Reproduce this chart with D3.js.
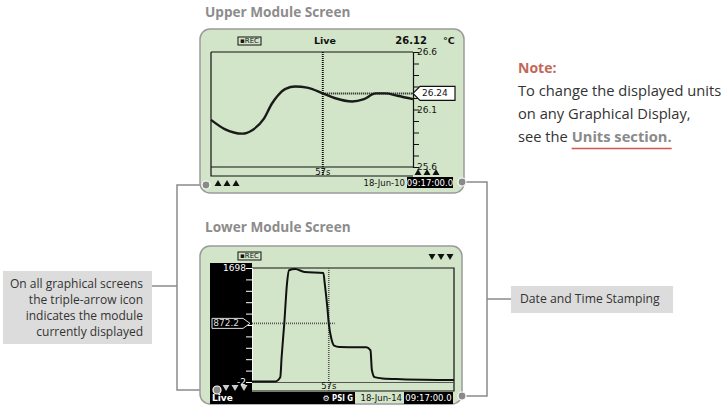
<!DOCTYPE html>
<html>
<head>
<meta charset="utf-8">
<script src="https://cdn.jsdelivr.net/npm/d3@7"></script>
<style>
  body { margin: 0; background: #fff; }
  svg { display: block; }
  .lcd { font-family: "DejaVu Sans", sans-serif; }
  .doc { font-family: "Open Sans", sans-serif; }
</style>
</head>
<body>
<script>
// ---- data -------------------------------------------------------------
// upper module: temperature trace (seconds, deg C)
var upperTime = [0, 7, 16, 21, 27, 31, 34, 38, 43, 49, 57, 63, 72, 78, 84,
    89, 95, 103];
var upperTemp = [26.01, 25.93, 25.89, 25.92, 26.02, 26.15, 26.22, 26.28,
    26.30, 26.29, 26.24, 26.20, 26.17, 26.19, 26.24, 26.24, 26.22, 26.19];
var upperTicks = [25.6, 25.7, 25.8, 25.9, 26.0, 26.1, 26.2, 26.3, 26.4,
    26.5, 26.6];
var upperLabels = [25.6, 26.1, 26.6];

// lower module: pressure trace (seconds, PSI G)
var lowerTime = [0, 17, 21, 22, 24, 26, 27.5, 32, 39, 53, 54, 56, 57, 59,
    61, 65, 85, 88, 89, 91, 97, 111, 150];
var lowerPsi = [5, 5, 70, 370, 880, 1470, 1665, 1683, 1640, 1625, 1470,
    1100, 872, 640, 540, 520, 515, 470, 180, 70, 50, 40, 28];
var lowerTicks = [-2, 168, 338, 508, 678, 848, 1018, 1188, 1358, 1528, 1698];
var lowerLabels = [-2, 1698];

var cursorTime = 57;
var upperCursorValue = 26.24;
var lowerCursorValue = 872.2;

var noteLines = ["To change the displayed units", "on any Graphical Display,"];
var calloutLines = ["On all graphical screens", "the triple-arrow icon",
    "indicates the module", "currently displayed"];

// ---- page ---------------------------------------------------------------
var W = 725, H = 406;
var lcdFill = "#d3e5c8", frame = "#9a9a9a", ink = "#111";

var svg = d3.select("body").append("svg")
    .attr("width", W)
    .attr("height", H);

function screenBox(x, y, w, h) {
    svg.append("rect")
        .attr("x", x).attr("y", y)
        .attr("width", w).attr("height", h)
        .attr("rx", 10).attr("ry", 10)
        .attr("fill", lcdFill)
        .attr("stroke", frame)
        .attr("stroke-width", 1.5);
}

function lcdText(g, x, y, txt, opts) {
    opts = opts || {};
    var t = g.append("text")
        .attr("class", "lcd")
        .attr("x", x).attr("y", y)
        .attr("dominant-baseline", "middle")
        .attr("text-anchor", opts.anchor || "start")
        .attr("font-size", opts.size || 9)
        .attr("font-weight", opts.bold ? "bold" : "normal")
        .attr("fill", opts.fill || ink)
        .text(txt);
    if (opts.len) {
        t.attr("textLength", opts.len)
            .attr("lengthAdjust", "spacingAndGlyphs");
    }
    return t;
}

function recIcon(g, x, y) {
    g.append("rect").attr("x", x).attr("y", y).attr("width", 23)
        .attr("height", 8).attr("fill", "none")
        .attr("stroke", ink).attr("stroke-width", 1);
    lcdText(g, x + 11.5, y + 4.3, "\u25aaREC", {anchor: "middle", size: 7});
}

function arrows(g, x, y, up, fill) {
    for (var i = 0; i < 3; i++) {
        var cx = x + i * 9;
        var pts = up
            ? [[cx - 3.5, y + 3], [cx + 3.5, y + 3], [cx, y - 3]]
            : [[cx - 3.5, y - 3], [cx + 3.5, y - 3], [cx, y + 3]];
        g.append("polygon").attr("points", pts.join(" "))
            .attr("fill", fill || ink);
    }
}

function docText(x, y, txt, opts) {
    opts = opts || {};
    return svg.append("text")
        .attr("class", "doc")
        .attr("x", x).attr("y", y)
        .attr("dominant-baseline", "middle")
        .attr("text-anchor", opts.anchor || "start")
        .attr("font-size", opts.size || 14)
        .attr("font-weight", opts.bold ? "bold" : "normal")
        .attr("fill", opts.fill || "#333")
        .text(txt);
}

// ---- titles ---------------------------------------------------------------
docText(205, 13, "Upper Module Screen", {size: 13.6, bold: true, fill: "#8c8c8c"});
docText(205, 228, "Lower Module Screen", {size: 13.6, bold: true, fill: "#8c8c8c"});

// ---- connectors (drawn under the screens) ------------------------------
var connector = svg.append("g")
    .attr("fill", "none")
    .attr("stroke", "#8a8a8a")
    .attr("stroke-width", 1.5);
connector.append("path").attr("d", "M152,286H177M206,185H177V390H217");
connector.append("path").attr("d", "M462,182H487V396H462M487,299H511");

// ---- upper screen -------------------------------------------------------
screenBox(200, 29, 264, 164);
var up = svg.append("g");

var ux = d3.scaleLinear().domain([0, 103]).range([211, 413]);
var uy = d3.scaleLinear().domain([25.6, 26.6]).range([167, 52]);

recIcon(up, 238, 37);
lcdText(up, 325, 41, "Live", {anchor: "middle", size: 9.5, bold: true});
lcdText(up, 427, 41, "26.12", {anchor: "end", size: 10, bold: true});
lcdText(up, 443, 41, "\u00b0C", {size: 9.5, bold: true});

// frame
up.append("path")
    .attr("d", "M211,52H413M211,52V176H413M211,167H413")
    .attr("fill", "none").attr("stroke", ink).attr("stroke-width", 1.2);

var uAxis = d3.axisRight(uy)
    .tickValues(upperTicks)
    .tickSize(6)
    .tickFormat(function(d) {
        return upperLabels.some(function(v) {
            return Math.abs(v - d) < 1e-6;
        }) ? d3.format(".1f")(d) : "";
    });
var uAxisG = up.append("g")
    .attr("transform", "translate(413,0)")
    .call(uAxis);
uAxisG.select(".domain").attr("stroke", ink).attr("stroke-width", 1.2);
uAxisG.selectAll(".tick line").attr("stroke", ink);
uAxisG.selectAll(".tick text")
    .attr("x", 4).attr("dy", "0.32em")
    .attr("font-size", 9).attr("fill", ink)
    .attr("font-family", "DejaVu Sans, sans-serif");

// cursor
var ucx = ux(cursorTime), ucy = uy(upperCursorValue);
up.append("line")
    .attr("x1", ucx).attr("x2", ucx).attr("y1", 52).attr("y2", 176)
    .attr("stroke", ink).attr("stroke-width", 2)
    .attr("stroke-dasharray", "1,1");
up.append("line")
    .attr("x1", ucx).attr("x2", 413).attr("y1", ucy).attr("y2", ucy)
    .attr("stroke", ink).attr("stroke-width", 2)
    .attr("stroke-dasharray", "1,1");

// trace
var uLine = d3.line()
    .x(function(d, i) { return ux(upperTime[i]); })
    .y(function(d) { return uy(d); })
    .curve(d3.curveMonotoneX);
up.append("path")
    .datum(upperTemp)
    .attr("d", uLine)
    .attr("fill", "none")
    .attr("stroke", "#1a1a1a")
    .attr("stroke-width", 2.4);

// value flag
up.append("path")
    .attr("d", "M413," + ucy + "l7,-7h35v14h-35z")
    .attr("fill", "#fff").attr("stroke", ink).attr("stroke-width", 1.2);
lcdText(up, 422, ucy + 0.5, d3.format(".2f")(upperCursorValue), {size: 9});

lcdText(up, ucx, 172, cursorTime + "s", {anchor: "middle", size: 8.5});
arrows(up, 418, 172, true);
arrows(up, 218, 183, true);
lcdText(up, 405, 183, "18-Jun-10", {anchor: "end", size: 8.5});
up.append("rect").attr("x", 407).attr("y", 177)
    .attr("width", 46).attr("height", 11).attr("fill", "#000");
lcdText(up, 430, 183, "09:17:00.0", {anchor: "middle", size: 8.5, fill: "#fff"});

// ---- lower screen -------------------------------------------------------
screenBox(200, 246, 262, 158);
var lo = svg.append("g");

var lx = d3.scaleLinear().domain([0, 150]).range([252, 454]);
var ly = d3.scaleLinear().domain([-2, 1698]).range([382, 268]);

recIcon(lo, 238, 252);
arrows(lo, 432, 257, false);

// black side panel and status bar
lo.append("rect").attr("x", 210).attr("y", 263)
    .attr("width", 42).attr("height", 141).attr("fill", "#000");
lo.append("rect").attr("x", 210).attr("y", 392)
    .attr("width", 145).attr("height", 12).attr("fill", "#000");

lo.append("path")
    .attr("d", "M252,268H454V391H252")
    .attr("fill", "none").attr("stroke", ink).attr("stroke-width", 1.2);

var lAxis = d3.axisLeft(ly)
    .tickValues(lowerTicks)
    .tickSize(6)
    .tickFormat(function(d) {
        return lowerLabels.indexOf(d) >= 0 ? d : "";
    });
var lAxisG = lo.append("g")
    .attr("transform", "translate(252,0)")
    .call(lAxis);
lAxisG.select(".domain").attr("stroke", "#fff").attr("stroke-width", 1);
lAxisG.selectAll(".tick line").attr("stroke", "#fff");
lAxisG.selectAll(".tick text")
    .attr("x", -6).attr("dy", "0.32em")
    .attr("font-size", 9).attr("fill", "#fff")
    .attr("font-family", "DejaVu Sans, sans-serif");

// baseline
lo.append("line")
    .attr("x1", 252).attr("x2", 454).attr("y1", 382.5).attr("y2", 382.5)
    .attr("stroke", "#555").attr("stroke-width", 1);

// cursor
var lcx = lx(cursorTime), lcy = ly(lowerCursorValue);
lo.append("line")
    .attr("x1", lcx).attr("x2", lcx).attr("y1", 268).attr("y2", 391)
    .attr("stroke", "#555").attr("stroke-width", 1.6)
    .attr("stroke-dasharray", "1,1");
lo.append("line")
    .attr("x1", 252).attr("x2", lcx + 6).attr("y1", lcy).attr("y2", lcy)
    .attr("stroke", "#555").attr("stroke-width", 1.6)
    .attr("stroke-dasharray", "1,1");

// trace
var lLine = d3.line()
    .x(function(d, i) { return lx(lowerTime[i]); })
    .y(function(d) { return ly(d); })
    .curve(d3.curveMonotoneX);
lo.append("path")
    .datum(lowerPsi)
    .attr("d", lLine)
    .attr("fill", "none")
    .attr("stroke", "#111")
    .attr("stroke-width", 2);

// value flag
lo.append("path")
    .attr("d", "M212," + (lcy - 5) + "h31l7,5l-7,5h-31z")
    .attr("fill", "#000").attr("stroke", "#ddd").attr("stroke-width", 1);
lcdText(lo, 239, lcy + 0.5, d3.format(".1f")(lowerCursorValue),
    {anchor: "end", size: 9, fill: "#ddd"});

lcdText(lo, lcx, 386.5, cursorTime + "s", {anchor: "middle", size: 8.5});
arrows(lo, 226, 388, false, "#ccc");
lcdText(lo, 212, 398.5, "Live", {size: 9, bold: true, fill: "#fff"});
lcdText(lo, 326, 398.5, "\u2699", {anchor: "middle", size: 8, fill: "#fff"});
lcdText(lo, 332, 398.5, "PSI G", {size: 8.5, bold: true, fill: "#fff", len: 21});
lcdText(lo, 402, 398.5, "18-Jun-14", {anchor: "end", size: 8.5});
lo.append("rect").attr("x", 404).attr("y", 392)
    .attr("width", 49).attr("height", 12).attr("fill", "#000");
lcdText(lo, 428.5, 398.5, "09:17:00.0", {anchor: "middle", size: 8.5, fill: "#fff"});

// ---- connector dots ----------------------------------------------------
[[206, 185], [217, 390], [462, 182], [462, 396]].forEach(function(p) {
    svg.append("circle")
        .attr("cx", p[0]).attr("cy", p[1]).attr("r", 4)
        .attr("fill", "#8a8a8a")
        .attr("stroke", "#fff").attr("stroke-width", 1.2);
});

// ---- callouts ----------------------------------------------------------
svg.append("rect").attr("x", 3).attr("y", 271)
    .attr("width", 149).attr("height", 73).attr("fill", "#dcdcdc");
calloutLines.forEach(function(t, i) {
    docText(143, 285 + i * 16, t, {anchor: "end", size: 12});
});

svg.append("rect").attr("x", 511).attr("y", 286)
    .attr("width", 162).attr("height", 27).attr("fill", "#dcdcdc");
docText(520, 299.5, "Date and Time Stamping", {size: 12.2});

docText(518, 69, "Note:", {size: 14, bold: true, fill: "#c2675a"});
noteLines.forEach(function(t, i) {
    docText(518, 92 + i * 23, t, {size: 14.7});
});
var seeTxt = docText(518, 138, "", {size: 14.7});
seeTxt.append("tspan").text("see the\u00a0");
var unitsSpan = seeTxt.append("tspan")
    .attr("font-weight", "bold").attr("fill", "#8a8a8a")
    .text("Units section.");
var unitsBox = unitsSpan.node().getBBox();
svg.append("line")
    .attr("x1", unitsBox.x).attr("x2", unitsBox.x + unitsBox.width)
    .attr("y1", 148.5).attr("y2", 148.5)
    .attr("stroke", "#d9534f").attr("stroke-width", 1.5);
</script>
</body>
</html>
